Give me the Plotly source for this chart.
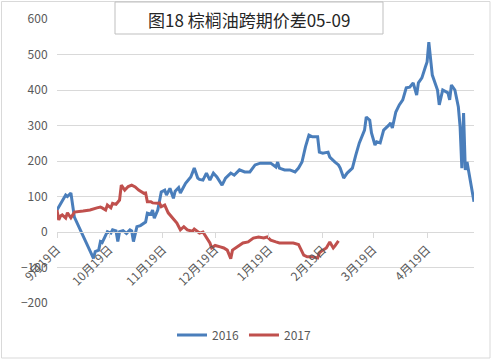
import plotly.graph_objects as go

# ---------------- data ----------------
tick_days = ["09-19", "10-19", "11-19", "12-19", "01-19", "02-19", "03-19", "04-19"]
tick_labels = ["9月19日", "10月19日", "11月19日", "12月19日", "1月19日", "2月19日", "3月19日", "4月19日"]

s2016_dates = [
    "09-19", "09-21", "09-22", "09-24", "09-25", "09-27", "09-29", "10-10", "10-11", "10-13",
    "10-14", "10-15", "10-18", "10-20", "10-21", "10-23", "10-24", "10-25", "10-27", "10-29",
    "10-31", "11-01", "11-02", "11-04", "11-06", "11-08", "11-09", "11-10", "11-12", "11-13",
    "11-14", "11-16", "11-17", "11-18", "11-20", "11-21", "11-23", "11-25", "11-26", "11-28",
    "11-29", "12-02", "12-05", "12-07", "12-09", "12-10", "12-12", "12-14", "12-16", "12-18",
    "12-20", "12-23", "12-25", "12-28", "12-30", "01-02", "01-05", "01-08", "01-11", "01-14",
    "01-17", "01-20", "01-23", "01-24", "01-25", "01-28", "01-31", "02-03", "02-05", "02-07",
    "02-09", "02-11", "02-13", "02-16", "02-17", "02-19", "02-22", "02-23", "02-26", "02-28",
    "02-29", "03-02", "03-04", "03-06", "03-07", "03-09", "03-11", "03-14", "03-15", "03-17",
    "03-18", "03-20", "03-21", "03-23", "03-25", "03-28", "03-29", "03-30", "04-01", "04-03",
    "04-05", "04-07", "04-09", "04-11", "04-13", "04-14", "04-16", "04-18", "04-19", "04-20",
    "04-21", "04-22", "04-25", "04-26", "04-28", "05-01", "05-02", "05-03", "05-05", "05-07",
    "05-08", "05-09", "05-10", "05-11", "05-12", "05-13", "05-16",
]
s2016_values = [
    62, 80, 90, 104, 100, 110, 42, -74, -55, -51,
    -27, -30, 1, -3, 6, 3, -27, 1, 4, -4,
    6, 3, -27, 15, 18, 25, 28, 53, 50, 62,
    39, 62, 85, 113, 118, 104, 123, 95, 115, 125,
    110, 137, 155, 180, 152, 148, 146, 166, 146, 166,
    155, 132, 152, 166, 160, 175, 169, 169, 189, 194,
    194, 194, 183, 197, 180, 175, 175, 169, 180, 197,
    240, 273, 268, 268, 225, 222, 225, 211, 197, 189,
    180, 152, 166, 175, 180, 217, 251, 287, 324, 315,
    279, 245, 254, 251, 287, 301, 307, 293, 338, 358,
    372, 406, 408, 420, 386, 420, 434, 465, 479, 535,
    484, 442, 400, 358, 400, 392, 372, 414, 400, 352,
    296, 180, 335, 175, 197, 166, 85,
]

s2017_dates = [
    "09-19", "09-20", "09-21", "09-22", "09-24", "09-25", "09-27", "09-29", "10-04", "10-08",
    "10-12", "10-14", "10-15", "10-17", "10-18", "10-20", "10-21", "10-23", "10-25", "10-26",
    "10-28", "10-30", "11-01", "11-03", "11-05", "11-08", "11-09", "11-10", "11-12", "11-13",
    "11-16", "11-17", "11-18", "11-20", "11-22", "11-24", "11-27", "11-29", "12-01", "12-03",
    "12-06", "12-07", "12-10", "12-12", "12-14", "12-16", "12-17", "12-19", "12-22", "12-24",
    "12-26", "12-28", "12-29", "01-01", "01-04", "01-07", "01-10", "01-13", "01-16", "01-18",
    "01-20", "01-23", "01-25", "01-29", "02-02", "02-05", "02-07", "02-08", "02-10", "02-13",
    "02-16", "02-17", "02-19", "02-21", "02-23", "02-25", "02-26", "02-28",
]
s2017_values = [
    62, 34, 45, 48, 39, 54, 40, 56, 59, 62,
    68, 70, 68, 62, 76, 68, 81, 78, 90, 132,
    118, 128, 132, 127, 118, 109, 110, 85, 85, 82,
    81, 82, 71, 76, 54, 43, 25, 6, 15, 6,
    2, 8, -3, 0, -14, -31, -45, -38, -42, -45,
    -51, -75, -51, -42, -31, -28, -17, -14, -17, -14,
    -23, -28, -31, -31, -31, -35, -56, -65, -70, -70,
    -73, -59, -51, -45, -28, -45, -39, -25,
]

series_names = ["2016", "2017"]
series_colors = ["#4a7ebb", "#c0504d"]
title_text = "图18 棕榈油跨期价差05-09"


def on_axis(md):
    # place month-day on a common Sep->May calendar
    m = int(md[:2])
    year = 2015 if m >= 9 else 2016
    return f"{year}-{md}"


FONT = "Noto Sans CJK SC, Noto Sans, sans-serif"
GRID = "#d9d9d9"
TXT = "#595959"

fig = go.Figure()
for name, color, dts, vals in [
    (series_names[0], series_colors[0], s2016_dates, s2016_values),
    (series_names[1], series_colors[1], s2017_dates, s2017_values),
]:
    fig.add_trace(go.Scatter(
        x=[on_axis(d) for d in dts], y=vals, mode="lines", name=name,
        line=dict(color=color, width=3), hoverinfo="skip",
    ))

L, R, T, B = 57, 20, 19, 60
W, H = 494, 363
pw, ph = W - L - R, H - T - B


def px(xp):
    return (xp - L) / pw


def py(yp):
    return (H - B - yp) / ph


fig.update_layout(
    width=W, height=H,
    margin=dict(l=L, r=R, t=T, b=B, pad=0, autoexpand=False),
    paper_bgcolor="white", plot_bgcolor="white",
    font=dict(family=FONT, size=12, color=TXT),
    showlegend=True,
    legend=dict(orientation="h", x=px(244), xanchor="center", y=py(335), yanchor="middle",
                font=dict(size=12, color=TXT), tracegroupgap=0,
                bgcolor="rgba(0,0,0,0)"),
    xaxis=dict(
        type="date", range=[on_axis("09-19"), on_axis("05-16")],
        tickvals=[on_axis(d) for d in tick_days], ticktext=tick_labels,
        tickangle=-45, tickfont=dict(size=12, color=TXT),
        anchor="free", position=0.25, automargin=False,
        showline=True, linecolor=GRID, linewidth=1,
        ticks="outside", ticklen=5, tickcolor=GRID,
        showgrid=False, zeroline=False,
    ),
    yaxis=dict(
        range=[-200, 600], dtick=100, tick0=0, automargin=False,
        showgrid=True, gridcolor=GRID, gridwidth=1,
        zeroline=False, showline=False,
        ticks="outside", ticklen=6, tickcolor="rgba(0,0,0,0)",
        tickfont=dict(size=12, color=TXT),
    ),
)

# outer chart border
fig.add_shape(type="rect", xref="paper", yref="paper",
              x0=px(1.5), x1=px(490), y0=py(358), y1=py(1.5),
              line=dict(color=GRID, width=1), fillcolor="rgba(0,0,0,0)", layer="above")
# title box
fig.add_shape(type="rect", xref="paper", yref="paper",
              x0=px(115), x1=px(383), y0=py(34), y1=py(2),
              line=dict(color="#bfbfbf", width=1), fillcolor="white", layer="above")
fig.add_annotation(text=title_text, xref="paper", yref="paper",
                   x=px(249), y=py(19), xanchor="center", yanchor="middle",
                   showarrow=False, font=dict(family=FONT, size=17, color="#262626"))

fig.write_html("out.html", config={"displayModeBar": False},
               post_script="document.body.style.margin='0';document.body.style.overflow='hidden';")
